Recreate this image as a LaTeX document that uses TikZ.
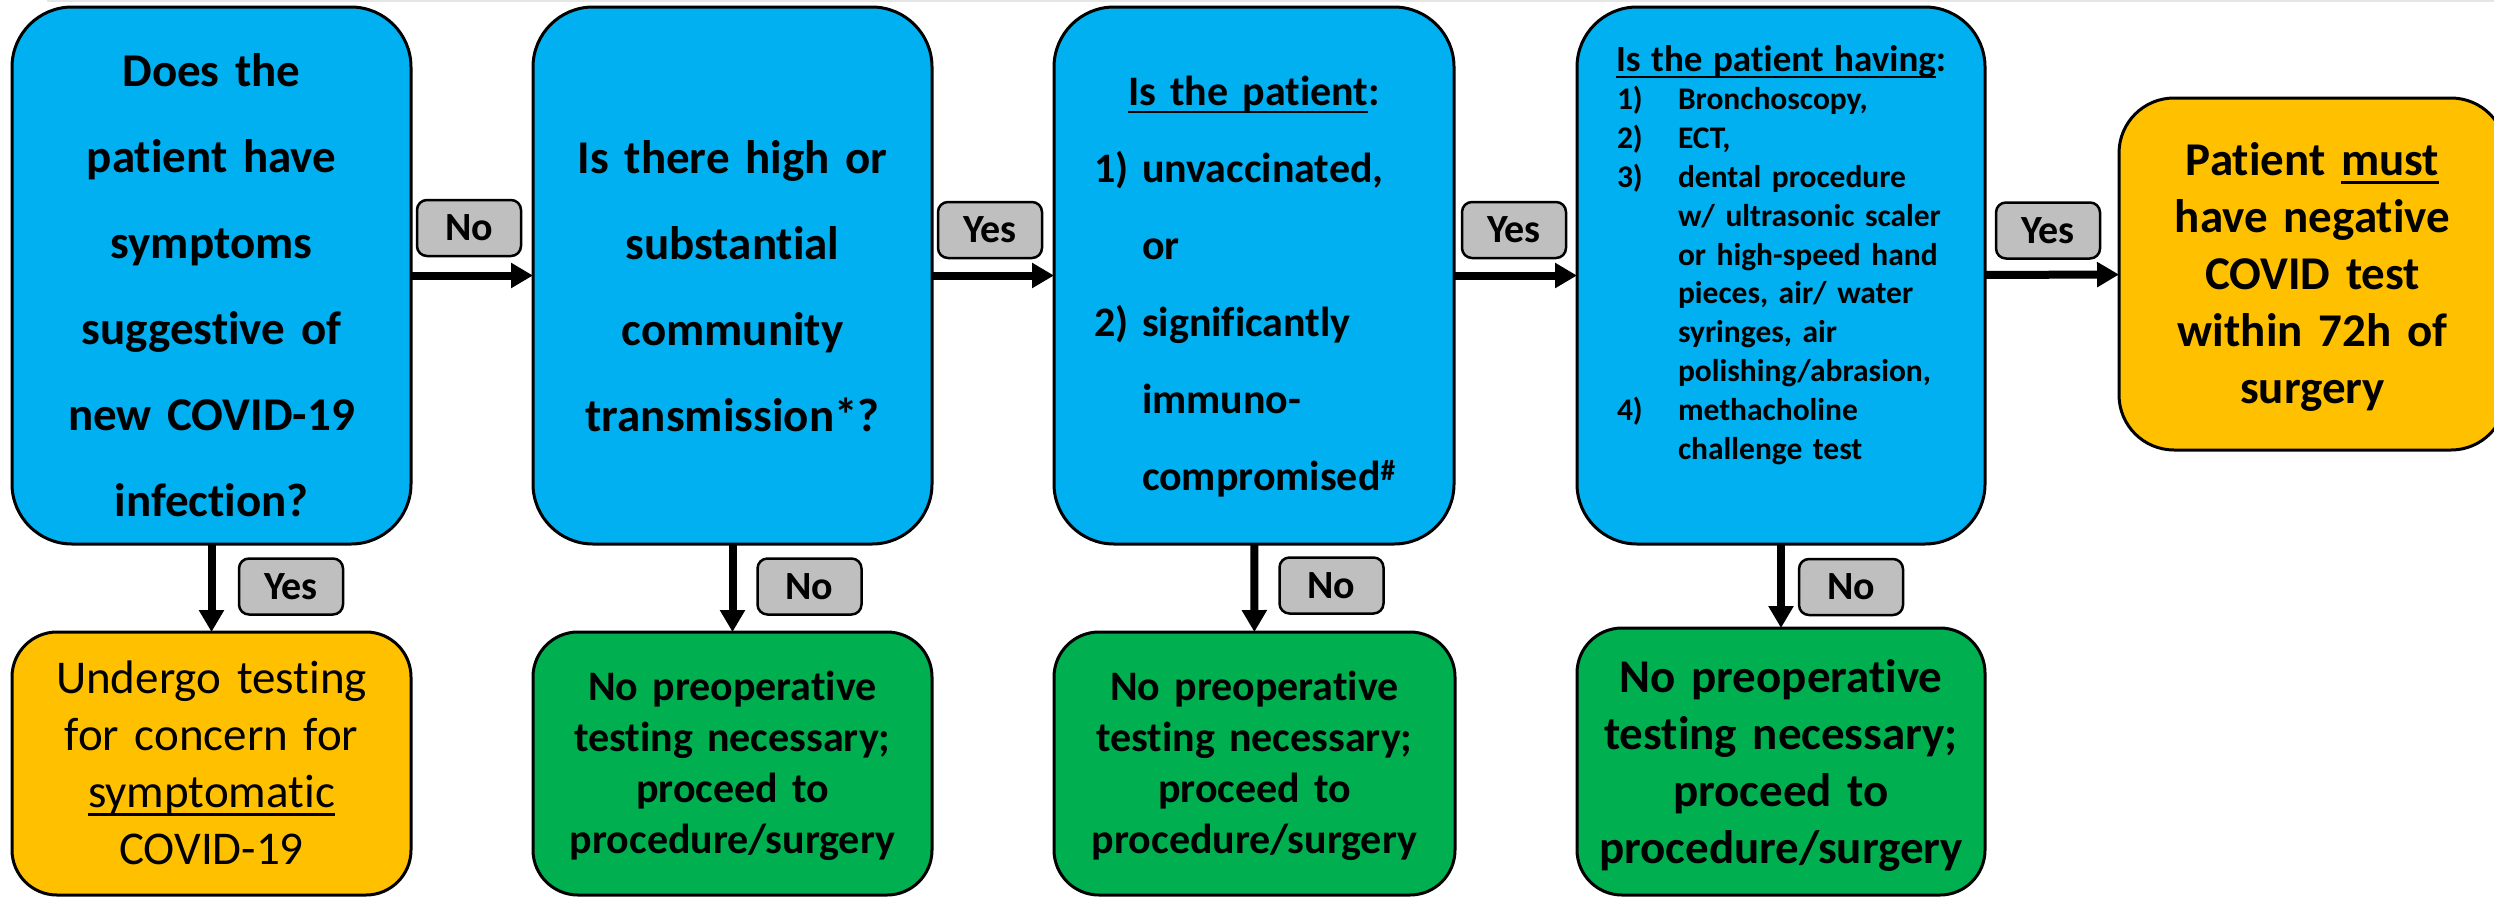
\documentclass[tikz,border=0pt]{standalone}
\usepackage{fontspec}
\setmainfont{Carlito}[Ligatures=NoCommon, RawFeature=-liga, RawFeature=-clig, RawFeature=-calt, RawFeature=-dlig]
\usetikzlibrary{arrows.meta}
\definecolor{cblue}{HTML}{00B0F0}
\definecolor{corange}{HTML}{FFC000}
\definecolor{cgreen}{HTML}{00B050}
\definecolor{cgray}{HTML}{BFBFBF}
\newcommand\myul[1]{\leavevmode\setbox0=\hbox{#1}\rlap{\rule[-0.2em]{\wd0}{0.065em}}\box0}
\begin{document}
\begin{tikzpicture}[x=1pt,y=-1pt,
  box/.style={draw, line width=3pt, inner sep=0pt, outer sep=0pt},
  bluebox/.style={box, fill=cblue, rounded corners=60pt, minimum height=537pt},
  lowbox/.style={box, rounded corners=45pt, minimum height=263pt},
  txt/.style={anchor=base, inner sep=0pt, text width=#1, align=center},
  lbl/.style={draw, line width=2.5pt, fill=cgray, rounded corners=10pt, inner sep=0pt,
    minimum width=104pt, minimum height=56pt, font=\fontsize{40}{48}\selectfont\bfseries},
  arr/.style={line width=8pt, -{Triangle[length=22pt,width=24pt]}},
  bigb/.style={font=\fontsize{47}{86}\selectfont\bfseries}
]
\useasboundingbox (0,0) rectangle (2494,900);
\clip (0,0) rectangle (2494,900);
\draw[line width=2pt, color=black!10] (47,1) -- (2494,1);

% top row boxes
\node[bluebox, minimum width=399pt] (b1) at (211.5,275.5) {};
\node[bluebox, minimum width=399pt] (b2) at (732.5,275.5) {};
\node[bluebox, minimum width=400pt] (b3) at (1254,275.5) {};
\node[bluebox, minimum width=408pt] (b4) at (1781,275.5) {};
\node[box, fill=corange, rounded corners=55pt, minimum width=387pt, minimum height=352pt] (o1) at (2312.5,274) {};

% bottom row boxes
\node[lowbox, fill=corange, minimum width=399pt] (o2) at (211.5,763.5) {};
\node[lowbox, fill=cgreen, minimum width=399pt] (g1) at (732.5,763.5) {};
\node[lowbox, fill=cgreen, minimum width=401pt] (g2) at (1254.5,763.5) {};
\node[lowbox, fill=cgreen, minimum width=408pt, minimum height=267pt] (g3) at (1781,761.5) {};

% texts
\node[txt=390pt, bigb] (t1) at (211.5,86) {Does the\\patient have\\symptoms\\suggestive of\\new COVID-19\\infection?};
\node[txt=390pt, bigb] (t2) at (732.5,173) {Is there high or\\substantial\\community\\transmission*?};
\node[txt=320pt, align=left, font=\fontsize{42}{77}\selectfont\bfseries] (t3) at (1254,105)
 {\makebox[\linewidth][c]{\myul{Is the patient}:}\\
  \makebox[48pt][l]{1)}unvaccinated,\\
  \hspace*{48pt}or\\
  \makebox[48pt][l]{2)}significantly\\
  \hspace*{48pt}immuno-\\
  \hspace*{48pt}compromised\textsuperscript{\#}};
\node[txt=360pt, align=left, font=\fontsize{31.5}{38.8}\selectfont\bfseries] (t4) at (1781,71)
 {\makebox[\linewidth][c]{\fontsize{37}{38.8}\selectfont\myul{Is the patient having}:}\\
  \hspace*{16pt}\makebox[61pt][l]{1)}Bronchoscopy,\\
  \hspace*{16pt}\makebox[61pt][l]{2)}ECT,\\
  \hspace*{16pt}\makebox[61pt][l]{3)}dental procedure\\
  \hspace*{77pt}w/ ultrasonic scaler\\
  \hspace*{77pt}or high-speed hand\\
  \hspace*{77pt}pieces, air/ water\\
  \hspace*{77pt}syringes, air\\
  \hspace*{77pt}polishing/abrasion,\\
  \hspace*{16pt}\makebox[61pt][l]{4)}methacholine\\
  \hspace*{77pt}challenge test};
\node[txt=380pt, font=\fontsize{47}{57}\selectfont\bfseries] (t5) at (2312.5,175)
 {Patient \myul{must}\\have negative\\COVID test\\within 72h of\\surgery};
\node[txt=390pt, font=\fontsize{47}{57}\selectfont] (t6) at (211.5,693)
 {Undergo testing\\for concern for\\\myul{symptomatic}\\COVID-19};
\node[txt=390pt, font=\fontsize{42}{51}\selectfont\bfseries] (t7) at (732.5,700)
 {No preoperative\\testing necessary;\\proceed to\\procedure/surgery};
\node[txt=390pt, font=\fontsize{42}{51}\selectfont\bfseries] (t8) at (1254.5,700)
 {No preoperative\\testing necessary;\\proceed to\\procedure/surgery};
\node[txt=400pt, font=\fontsize{47}{57}\selectfont\bfseries] (t9) at (1781,692)
 {No preoperative\\testing necessary;\\proceed to\\procedure/surgery};

% connectors
\draw[arr] (b1) -- (b2);
\draw[arr] (b2) -- (b3);
\draw[arr] (b3) -- (b4);
\draw[arr] (b4) -- (o1);
\draw[arr] (b1) -- (o2);
\draw[arr] (b2) -- (g1);
\draw[arr] (b3) -- (g2);
\draw[arr] (b4) -- (g3);

% labels
\node[lbl] (l1) at (469,228) {No};
\node[lbl] (l2) at (990,230) {Yes};
\node[lbl] (l3) at (1514,230) {Yes};
\node[lbl] (l4) at (2048,230.5) {Yes};
\node[lbl] (l5) at (291,586.5) {Yes};
\node[lbl] (l6) at (809.5,586.5) {No};
\node[lbl] (l7) at (1331.5,585.5) {No};
\node[lbl] (l8) at (1851,587) {No};
\end{tikzpicture}
\end{document}
